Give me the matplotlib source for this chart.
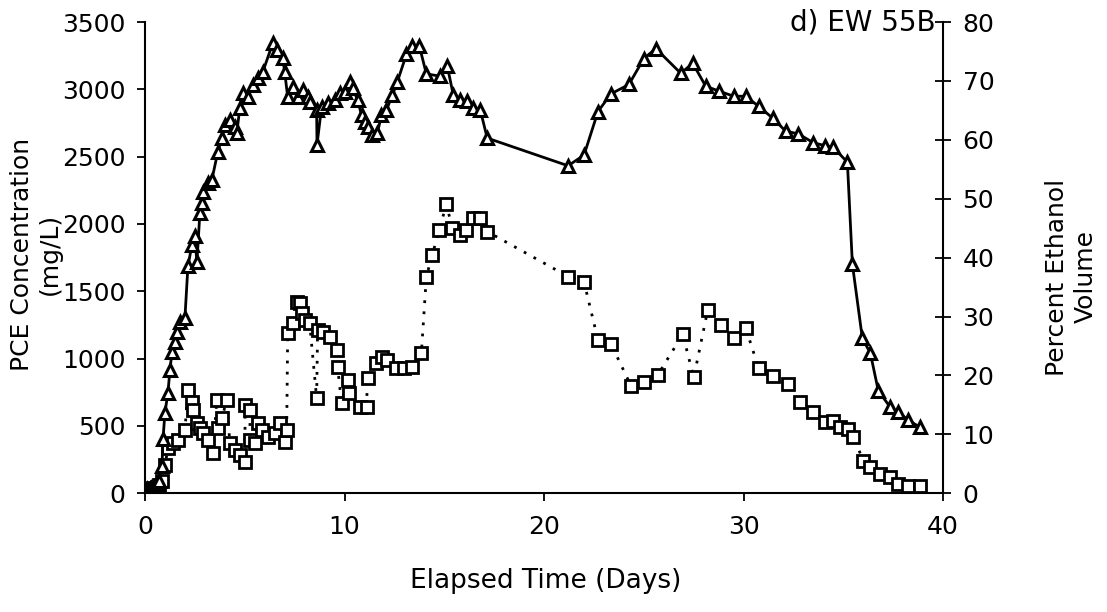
import matplotlib
matplotlib.use("Agg")
import matplotlib.pyplot as plt

plt.rcParams['font.family'] = ['DejaVu Sans']

# Percent ethanol (right axis), triangles, solid line
eth_days = [0.0, 0.1, 0.2, 0.3, 0.4, 0.5, 0.6, 0.7, 0.85, 0.9, 1.0, 1.15, 1.25, 1.35,
            1.5, 1.6, 1.75, 2.0, 2.15, 2.35, 2.5, 2.6, 2.75, 2.85, 2.9, 3.15, 3.35,
            3.65, 3.85, 4.0, 4.25, 4.5, 4.6, 4.75, 4.9, 5.15, 5.4, 5.65, 5.9, 6.4,
            6.6, 6.9, 7.0, 7.15, 7.4, 7.65, 7.9, 8.15, 8.25, 8.6, 8.62, 8.85, 9.15,
            9.5, 9.75, 10.0, 10.25, 10.4, 10.65, 10.85, 11.0, 11.15, 11.4, 11.65,
            11.85, 12.1, 12.4, 12.65, 13.1, 13.4, 13.75, 14.1, 14.8, 15.15, 15.45,
            15.8, 16.15, 16.45, 16.8, 17.15, 21.2, 22.0, 22.7, 23.35, 24.25, 25.0,
            25.6, 26.85, 27.45, 28.1, 28.75, 29.5, 30.1, 30.75, 31.45, 32.1, 32.75,
            33.5, 34.1, 34.5, 35.2, 35.45, 35.95, 36.35, 36.75, 37.35, 37.75, 38.25,
            38.85]
eth_pct = [0.5, 0.8, 0.6, 0.9, 1.0, 1.2, 1.5, 2.0, 4.6, 9.2, 13.7, 17.1, 21.0, 23.9,
           25.6, 27.3, 29.0, 29.8, 38.5, 42.2, 43.6, 39.2, 47.6, 49.3, 51.2, 52.7, 53.2,
           58.0, 60.3, 62.5, 63.4, 62.2, 61.2, 65.4, 68.0, 67.3, 69.3, 70.5, 71.5, 76.4,
           75.3, 73.9, 71.5, 67.3, 69.0, 67.3, 68.5, 67.3, 66.4, 65.0, 59.2, 65.6, 66.3,
           66.8, 68.0, 68.2, 69.9, 68.8, 66.8, 64.2, 63.1, 62.2, 60.9, 61.2,
           64.2, 65.1, 67.6, 69.9, 74.5, 75.9, 75.9, 71.2, 70.8, 72.5, 67.6,
           66.8, 66.6, 65.4, 65.1, 60.3, 55.6, 57.4, 64.8, 67.8, 69.4, 73.8,
           75.5, 71.3, 73.0, 69.1, 68.3, 67.4, 67.4, 65.7, 63.7, 61.5, 61.0,
           59.5, 59.0, 58.7, 56.2, 38.9, 26.3, 23.8, 17.4, 14.6, 13.8, 12.4,
           11.2]

# PCE concentration (left axis), squares, dotted line
pce_days = [0.0, 0.1, 0.2, 0.3, 0.4, 0.5, 0.6, 0.7, 0.85, 1.0, 1.15, 1.4, 1.65, 2.0,
            2.15, 2.35, 2.4, 2.6, 2.75, 2.9, 3.15, 3.4, 3.6, 3.65, 3.85, 4.1, 4.25,
            4.5, 4.75, 5.0, 5.02, 5.25, 5.27, 5.5, 5.65, 5.85, 6.15, 6.5, 6.75, 7.0,
            7.1, 7.15, 7.4, 7.6, 7.75, 7.85, 8.0, 8.25, 8.6, 8.65, 8.9, 9.25, 9.6,
            9.65, 9.85, 10.15, 10.2, 10.75, 11.1, 11.15, 11.6, 11.9, 12.15, 12.6,
            13.0, 13.4, 13.85, 14.1, 14.4, 14.75, 15.1, 15.4, 15.8, 16.1, 16.45,
            16.8, 17.15, 21.2, 22.0, 22.7, 23.35, 24.35, 25.0, 25.7, 26.95, 27.5,
            28.2, 28.85, 29.5, 30.1, 30.75, 31.45, 32.2, 32.85, 33.5, 34.1, 34.5,
            34.85, 35.25, 35.5, 36.0, 36.35, 36.85, 37.35, 37.75, 38.25, 38.85]
pce_mgl = [30, 25, 35, 30, 40, 35, 45, 60, 90, 208, 335, 372, 395, 469,
           767, 678, 618, 521, 484, 447, 395, 298, 693, 484, 558, 693, 372,
           320, 283, 231, 655, 618, 395, 372, 521, 469, 417, 447, 521, 380,
           469, 1191, 1266, 1422, 1415, 1340, 1288, 1266, 707, 1214, 1199, 1162, 1065,
           938, 670, 841, 745, 640, 640, 856, 968, 1013, 990, 931,
           931, 938, 1043, 1609, 1772, 1958, 2145, 1973, 1921, 1958, 2048,
           2048, 1944, 1610, 1570, 1140, 1110, 800, 830, 880, 1180, 860,
           1360, 1250, 1150, 1230, 930, 870, 810, 680, 600, 530, 540,
           490, 480, 420, 240, 195, 145, 120, 70, 55, 55]

x_ticks = [0, 10, 20, 30, 40]
pce_ticks = [0, 500, 1000, 1500, 2000, 2500, 3000, 3500]
eth_ticks = [0, 10, 20, 30, 40, 50, 60, 70, 80]

FS = 18

fig = plt.figure(figsize=(11.07, 6.12), dpi=100)
ax = fig.add_axes([0.131, 0.194, 0.721, 0.770])
ax2 = ax.twinx()

ax.plot(pce_days, pce_mgl, color='black', linestyle=(0, (1, 3)), linewidth=2,
        marker='s', markersize=8, markerfacecolor='white', markeredgecolor='black',
        markeredgewidth=2.0, zorder=3)
ax2.plot(eth_days, eth_pct, color='black', linestyle='-', linewidth=2.0,
         marker='^', markersize=9, markerfacecolor='white', markeredgecolor='black',
         markeredgewidth=2.2, zorder=3)

ax.set_xlim(0, 40)
ax.set_ylim(0, 3500)
ax2.set_ylim(0, 80)
ax.set_xticks(x_ticks)
ax.set_yticks(pce_ticks)
ax2.set_yticks(eth_ticks)

for a in (ax, ax2):
    a.spines['top'].set_visible(False)
    for s in a.spines.values():
        s.set_linewidth(1.5)
ax.spines['right'].set_visible(False)
ax2.spines['left'].set_visible(False)
ax2.spines['bottom'].set_visible(False)

ax.tick_params(axis='both', labelsize=FS, width=1.3, length=6, direction='out')
ax.tick_params(axis='x', pad=10)
ax.tick_params(axis='y', pad=8)
ax2.tick_params(axis='y', labelsize=FS, width=1.3, length=12, direction='inout', pad=8)

fig.text(546 / 1107, 1 - 581 / 612, 'Elapsed Time (Days)', fontsize=19,
         ha='center', va='center')
fig.text(36 / 1107, 1 - 254 / 612, 'PCE Concentration\n(mg/L)', fontsize=FS,
         ha='center', va='center', rotation=90, linespacing=1.25)
fig.text(1071 / 1107, 1 - 277 / 612, 'Percent Ethanol\nVolume', fontsize=FS,
         ha='center', va='center', rotation=90, linespacing=1.25)

ax2.text(0.99, 1.0, 'd) EW 55B', transform=ax2.transAxes, ha='right', va='center',
         fontsize=20)

fig.savefig('out.png', dpi=100)
